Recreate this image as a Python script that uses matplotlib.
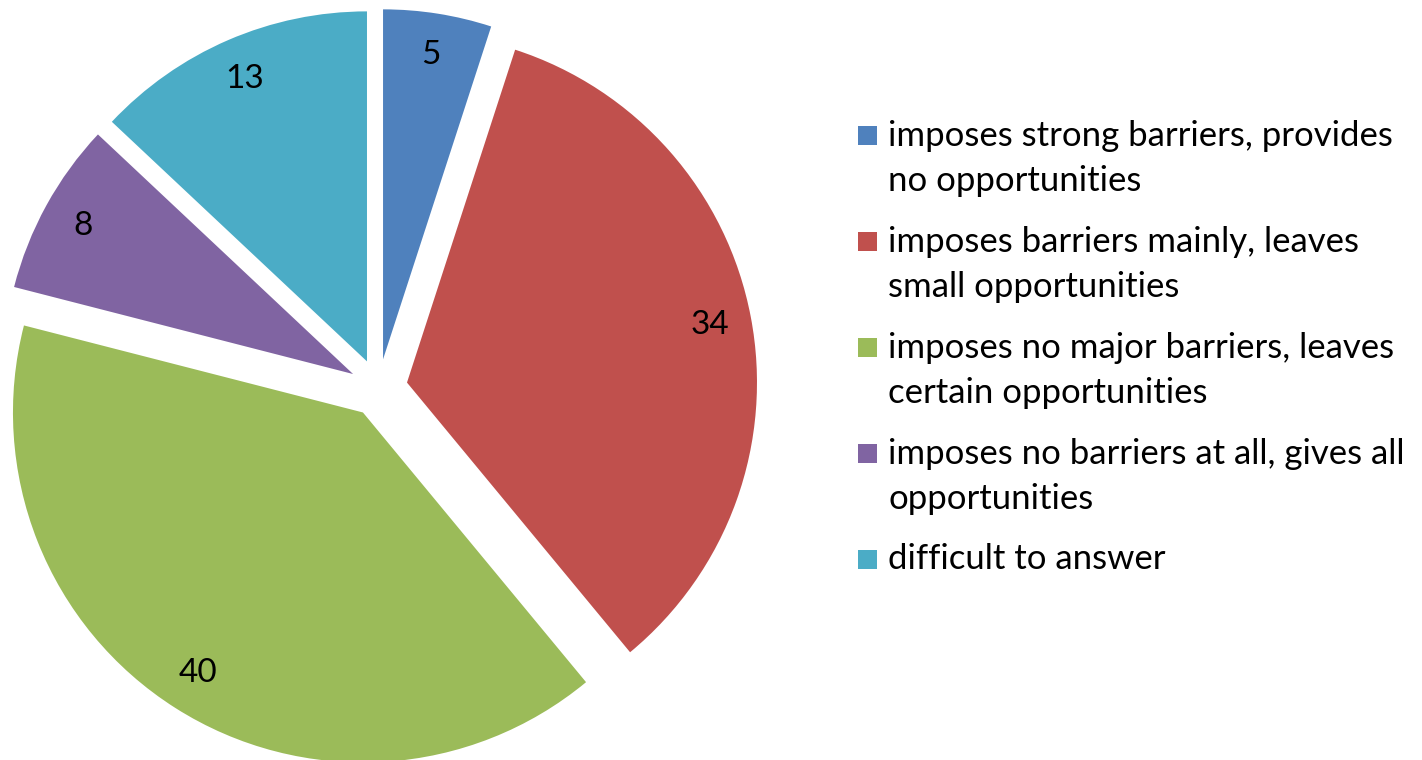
import matplotlib.pyplot as plt
from matplotlib.patches import Rectangle

# survey answers, per cent
categories = ['imposes strong barriers, provides\nno opportunities',
              'imposes barriers mainly, leaves\nsmall opportunities',
              'imposes no major barriers, leaves\ncertain opportunities',
              'imposes no barriers at all, gives all\nopportunities',
              'difficult to answer']
values = [5, 34, 40, 8, 13]
colors = ['#4F81BD', '#C0504D', '#9BBB59', '#8064A2', '#4BACC6']

plt.rcParams['font.family'] = ['Lato', 'DejaVu Sans']

W, H = 1422, 760
fig = plt.figure(figsize=(W / 100, H / 100), dpi=100)
ax = fig.add_axes([0, 0, 1, 1])
ax.set_xlim(0, W)
ax.set_ylim(0, H)
ax.set_aspect('equal')
ax.axis('off')

R = 350
wedges, texts, autotexts = ax.pie(values, colors=colors, startangle=90, counterclock=False,
                                  center=(378.5, H - 388), radius=R,
                                  explode=[29] * len(values),
                                  autopct='%.0f', pctdistance=0.88,
                                  textprops={'fontsize': 24, 'color': 'black'},
                                  wedgeprops={'linewidth': 0})
ax.set_xlim(0, W)
ax.set_ylim(0, H)

# legend, drawn by hand so the square sits on the first line
y = 145
for w, lab in zip(wedges, categories):
    ax.add_patch(Rectangle((858, H - y), 19, 19, facecolor=w.get_facecolor(),
                           linewidth=0))
    nl = lab.count('\n')
    # baseline alignment uses the last line, so push it down
    ax.text(888, H - y - 46 * nl, lab, fontsize=25, va='baseline', ha='left',
            linespacing=1.5, color='black')
    y += 106

plt.savefig('out.png', dpi=100)
